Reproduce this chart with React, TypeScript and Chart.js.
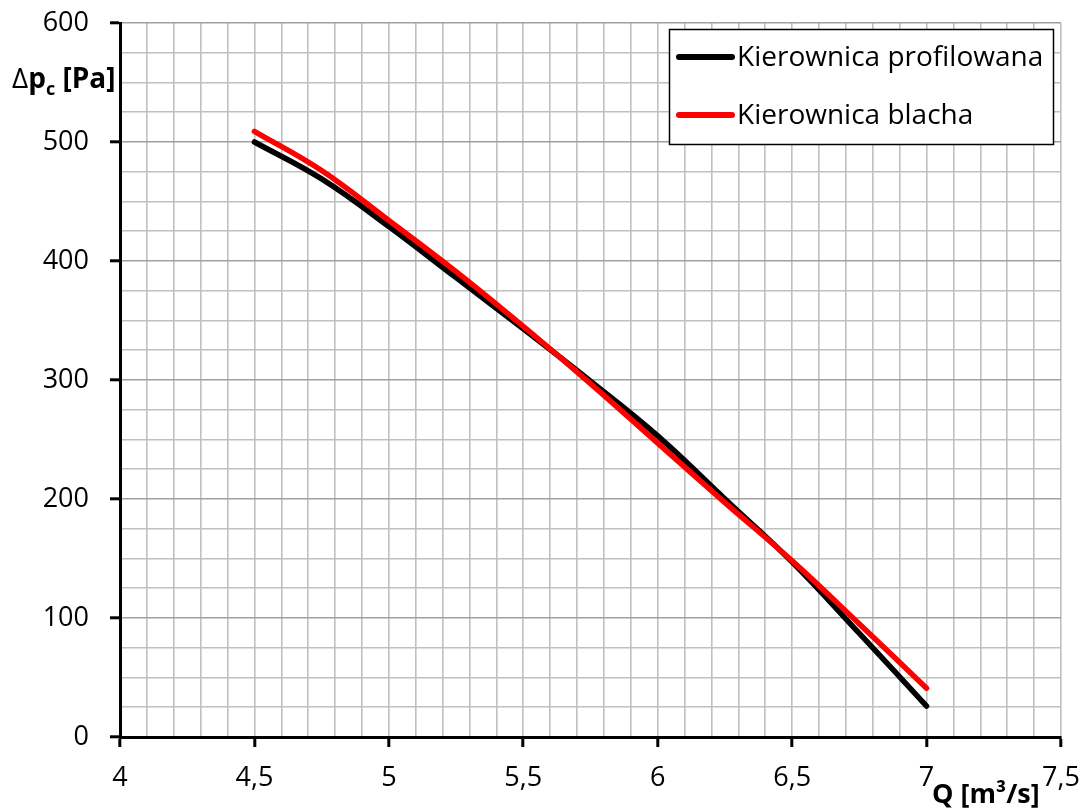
import React, { useEffect, useRef } from "react";
import { Chart, registerables } from "chart.js";

Chart.register(...registerables);

// Flow rate Q [m³/s]
const qValues = [4.5, 4.75, 5.0, 5.25, 5.5, 5.75, 6.0, 6.25, 6.5, 6.75, 7.0];
// Total pressure Δp_c [Pa] for the profiled guide vane
const profilowana = [500, 469, 429, 386, 343, 299, 253, 200, 147, 87, 26];
// Total pressure Δp_c [Pa] for the sheet-metal guide vane
const blacha = [509, 476, 434, 391, 345, 297, 247, 197, 148, 95, 41];

const seriesNames = ["Kierownica profilowana", "Kierownica blacha"];
const seriesColors = ["#000000", "#ff0000"];

// Axis ranges and tick spacing
const xMin = 4;
const xMax = 7.5;
const xMajorStep = 0.5;
const xMinorStep = 0.1;
const yMin = 0;
const yMax = 600;
const yMajorStep = 100;
const yMinorStep = 25;

const FONT = "'Open Sans', 'Noto Sans', sans-serif";

const isMultiple = (v: number, step: number) =>
  Math.abs(v / step - Math.round(v / step)) < 1e-6;

const formatPl = (v: number) => String(Math.round(v * 10) / 10).replace(".", ",");

const overlayPlugin = {
  id: "overlay",
  afterDraw(chart: any) {
    const ctx = chart.ctx as CanvasRenderingContext2D;
    const area = chart.chartArea;
    ctx.save();

    // Legend box in the upper right corner of the plot
    const lx = area.right - 392;
    const ly = area.top + 6;
    const lw = 384;
    const lh = 115;
    ctx.fillStyle = "#ffffff";
    ctx.fillRect(lx, ly, lw, lh);
    ctx.strokeStyle = "#000000";
    ctx.lineWidth = 1.5;
    ctx.strokeRect(lx + 0.5, ly + 0.5, lw, lh);
    ctx.font = `28px ${FONT}`;
    ctx.textBaseline = "middle";
    ctx.textAlign = "left";
    seriesNames.forEach((name, i) => {
      const cy = ly + 28 + i * 58;
      ctx.strokeStyle = seriesColors[i];
      ctx.lineWidth = 6;
      ctx.lineCap = "round";
      ctx.beginPath();
      ctx.moveTo(lx + 10, cy);
      ctx.lineTo(lx + 63, cy);
      ctx.stroke();
      ctx.fillStyle = "#000000";
      ctx.fillText(name, lx + 68, cy + 1);
    });

    // Y axis title: Δp_c [Pa]
    ctx.textBaseline = "alphabetic";
    ctx.fillStyle = "#000000";
    let x = 12;
    const by = 88;
    ctx.font = `28px ${FONT}`;
    ctx.fillText("Δ", x, by);
    x += ctx.measureText("Δ").width;
    ctx.font = `bold 28px ${FONT}`;
    ctx.fillText("p", x, by);
    x += ctx.measureText("p").width;
    ctx.font = `bold 18px ${FONT}`;
    ctx.fillText("c", x, by + 7);
    x += ctx.measureText("c").width;
    ctx.font = `bold 28px ${FONT}`;
    ctx.fillText(" [Pa]", x, by);

    // X axis title: Q [m³/s]
    ctx.font = `bold 27px ${FONT}`;
    ctx.fillText("Q [m³/s]", 932, 803);

    ctx.restore();
  },
};

export default function App() {
  const canvasRef = useRef<HTMLCanvasElement | null>(null);

  useEffect(() => {
    const canvas = canvasRef.current;
    if (!canvas) return;

    const chart = new Chart(canvas, {
      type: "line",
      data: {
        datasets: [
          {
            label: seriesNames[0],
            data: qValues.map((q, i) => ({ x: q, y: profilowana[i] })),
            borderColor: seriesColors[0],
            borderWidth: 5.5,
            borderCapStyle: "round",
            borderJoinStyle: "round",
            pointRadius: 0,
            tension: 0.4,
            fill: false,
            order: 1,
          },
          {
            label: seriesNames[1],
            data: qValues.map((q, i) => ({ x: q, y: blacha[i] })),
            borderColor: seriesColors[1],
            borderWidth: 5.5,
            borderCapStyle: "round",
            borderJoinStyle: "round",
            pointRadius: 0,
            tension: 0.4,
            fill: false,
            order: 0,
          },
        ],
      },
      options: {
        responsive: false,
        animation: false,
        layout: { padding: { top: 23, right: 29, left: 0, bottom: 0 } },
        plugins: {
          legend: { display: false },
          tooltip: { enabled: false },
        },
        scales: {
          x: {
            type: "linear",
            min: xMin,
            max: xMax,
            afterFit(scale: any) {
              scale.height = 75;
              scale.paddingLeft = 0;
              scale.paddingRight = 0;
            },
            afterBuildTicks(scale: any) {
              const ticks = [];
              const n = Math.round((xMax - xMin) / xMinorStep);
              for (let i = 0; i <= n; i++) {
                ticks.push({ value: Math.round((xMin + i * xMinorStep) * 10) / 10 });
              }
              scale.ticks = ticks;
            },
            ticks: {
              autoSkip: false,
              maxRotation: 0,
              padding: 15,
              color: "#000000",
              font: { family: FONT, size: 27 },
              callback: (v: any) => (isMultiple(Number(v) - xMin, xMajorStep) ? formatPl(Number(v)) : ""),
            },
            grid: {
              color: "#c0c0c0",
              lineWidth: 1.6,
              tickLength: 10,
              tickWidth: 3,
              tickColor: (ctx: any) =>
                ctx.tick && isMultiple(ctx.tick.value - xMin, xMajorStep) ? "#000000" : "rgba(0,0,0,0)",
            },
            border: { color: "#000000", width: 3 },
          },
          y: {
            type: "linear",
            min: yMin,
            max: yMax,
            afterFit(scale: any) {
              scale.width = 120;
              scale.paddingTop = 0;
              scale.paddingBottom = 0;
            },
            ticks: {
              stepSize: yMinorStep,
              autoSkip: false,
              padding: 21,
              color: "#000000",
              font: { family: FONT, size: 27 },
              callback: (v: any) => (isMultiple(Number(v), yMajorStep) ? String(v) : ""),
            },
            grid: {
              color: (ctx: any) =>
                ctx.tick && isMultiple(ctx.tick.value, yMajorStep) ? "#a0a0a0" : "#c0c0c0",
              lineWidth: 1.6,
              tickLength: 10,
              tickWidth: 3,
              tickColor: (ctx: any) =>
                ctx.tick && isMultiple(ctx.tick.value, yMajorStep) ? "#000000" : "rgba(0,0,0,0)",
            },
            border: { color: "#000000", width: 3 },
          },
        },
      },
      plugins: [overlayPlugin],
    });

    return () => chart.destroy();
  }, []);

  return (
    <div style={{ position: "fixed", left: 0, top: 0, width: 1090, height: 812, background: "#ffffff" }}>
      <canvas ref={canvasRef} width={1090} height={812} />
    </div>
  );
}
